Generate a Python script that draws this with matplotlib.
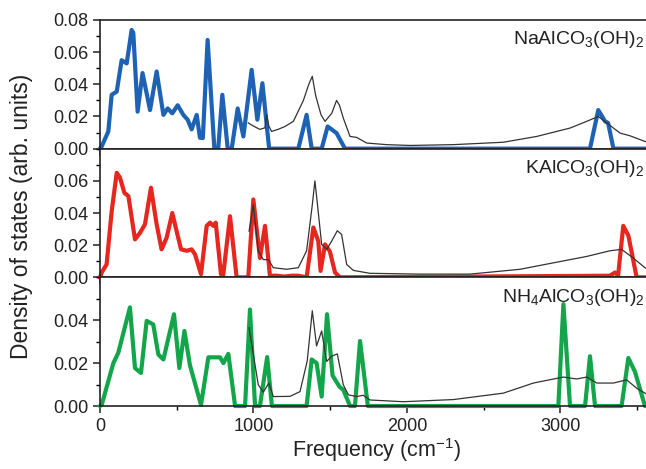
import matplotlib
matplotlib.use("Agg")
import matplotlib.pyplot as plt
from matplotlib.ticker import MultipleLocator, FixedLocator
import matplotlib.transforms as mtransforms

plt.rcParams['font.family'] = ['Liberation Sans', 'DejaVu Sans']
plt.rcParams['mathtext.fontset'] = 'custom'
plt.rcParams['mathtext.rm'] = 'Liberation Sans'
plt.rcParams['mathtext.it'] = 'Liberation Sans:italic'
plt.rcParams['mathtext.bf'] = 'Liberation Sans:bold'

# ---------------- data ----------------
labels = [r'NaAlCO$_3$(OH)$_2$', r'KAlCO$_3$(OH)$_2$', r'NH$_4$AlCO$_3$(OH)$_2$']

na_f = [0, 11, 54, 76, 109, 141, 174, 206, 217, 245, 277, 326, 369, 413, 441, 471, 506, 543, 571, 597, 630, 651, 670,
        701, 745, 770, 797, 832, 858, 897, 934, 988, 1025, 1058, 1102, 1292, 1346, 1379, 1444, 1483, 1541, 1596,
        3192, 3246, 3290, 3310, 3345, 3600]
na_v = [0, 0.0014, 0.0107, 0.0335, 0.0355, 0.055, 0.053, 0.0738, 0.072, 0.023, 0.047, 0.024, 0.048, 0.021, 0.025,
        0.022, 0.027, 0.021, 0.018, 0.012, 0.021, 0.0068, 0.0066, 0.0676, 0.0, 0.0, 0.0335, 0.0, 0.0, 0.025, 0.0076,
        0.049, 0.018, 0.0407, 0, 0, 0.021, 0, 0, 0.0138, 0.0097, 0, 0, 0.024, 0.017, 0.016, 0, 0]

na_exp_f = [966, 1000, 1042, 1075, 1086, 1100, 1118, 1160, 1205, 1260, 1325, 1360, 1383, 1405, 1440, 1466, 1510, 1541,
            1560, 1585, 1629, 1672, 1737, 1867, 2020, 2302, 2628, 2845, 3062, 3171, 3246, 3301, 3388, 3453, 3550, 3600]
na_exp_v = [0.016, 0.014, 0.012, 0.013, 0.021, 0.014, 0.0107, 0.012, 0.0138, 0.017, 0.030, 0.040, 0.045, 0.033, 0.021,
            0.017, 0.022, 0.030, 0.027, 0.019, 0.0076, 0.007, 0.0035, 0.0025, 0.002, 0.0025, 0.004, 0.0076, 0.0128,
            0.017, 0.020, 0.016, 0.0097, 0.008, 0.0045, 0.003]

k_f = [0, 11, 43, 76, 109, 130, 159, 185, 228, 261, 293, 332, 369, 401, 434, 471, 499, 528, 565, 597, 619, 658, 695,
       717, 738, 754, 788, 801, 847, 890, 966, 999, 1042, 1075, 1107, 1151, 1200, 1250, 1292, 1346, 1390, 1422, 1437,
       1466, 1498, 1531, 1564, 3322, 3355, 3375, 3409, 3442, 3496, 3600]
k_v = [0, 0.003, 0.008, 0.041, 0.065, 0.062, 0.0525, 0.0505, 0.0236, 0.0277, 0.033, 0.0557, 0.033, 0.0174, 0.0246,
       0.040, 0.0287, 0.0174, 0.0165, 0.0174, 0.0143, 0.002, 0.032, 0.034, 0.032, 0.034, 0.002, 0.0, 0.038, 0, 0,
       0.0484, 0.012, 0.032, 0.001, 0.001, 0.0005, 0.001, 0.001, 0, 0.031, 0.0225, 0.004, 0.0205, 0.016, 0.003, 0,
       0.001, 0.003, 0.001, 0.032, 0.026, 0, 0]

k_exp_f = [971, 999, 1031, 1064, 1097, 1129, 1216, 1292, 1346, 1383, 1400, 1417, 1444, 1477, 1509, 1546, 1574, 1607,
           1651, 1759, 2085, 2410, 2736, 2953, 3171, 3322, 3398, 3474, 3550, 3600]
k_exp_v = [0.0287, 0.045, 0.0165, 0.011, 0.011, 0.006, 0.005, 0.006, 0.0165, 0.045, 0.060, 0.045, 0.0205, 0.0174,
           0.0225, 0.029, 0.0267, 0.008, 0.0043, 0.0025, 0.002, 0.002, 0.005, 0.009, 0.013, 0.0165, 0.0174, 0.012,
           0.006, 0.004]

nh4_f = [0, 11, 87, 119, 195, 228, 267, 304, 347, 380, 413, 482, 517, 550, 586, 658, 706, 782, 804, 836, 880, 945,
         977, 1010, 1042, 1089, 1120, 1346, 1379, 1411, 1444, 1479, 1515, 1560, 1585, 1629, 1661, 1694, 1745, 2986,
         3019, 3062, 3160, 3192, 3225, 3398, 3442, 3485, 3550, 3600]
nh4_v = [0, 0.0005, 0.020, 0.0248, 0.046, 0.0177, 0.0154, 0.0397, 0.038, 0.024, 0.0217, 0.0428, 0.0177, 0.035, 0.019,
         0.0005, 0.0227, 0.0227, 0.020, 0.0243, 0, 0, 0.045, 0, 0, 0.0228, 0, 0, 0.0217, 0.020, 0.0044, 0.0428,
         0.0142, 0.009, 0.0075, 0, 0, 0.0303, 0, 0, 0.0475, 0, 0, 0.0232, 0, 0, 0.0224, 0.016, 0, 0]

nh4_exp_f = [971, 1031, 1064, 1100, 1129, 1238, 1303, 1350, 1383, 1411, 1444, 1477, 1509, 1546, 1585, 1618, 1672,
             1715, 1759, 1976, 2302, 2628, 2823, 3019, 3105, 3171, 3236, 3345, 3431, 3496, 3550, 3600]
nh4_exp_v = [0.0365, 0.0099, 0.0065, 0.0107, 0.0044, 0.0045, 0.0067, 0.021, 0.0444, 0.028, 0.035, 0.0208, 0.0232,
             0.0243, 0.0099, 0.0052, 0.0044, 0.005, 0.0028, 0.002, 0.003, 0.006, 0.0107, 0.0135, 0.0126, 0.0135,
             0.0107, 0.0107, 0.0122, 0.0083, 0.006, 0.004]

calc = [(na_f, na_v), (k_f, k_v), (nh4_f, nh4_v)]
exp = [(na_exp_f, na_exp_v), (k_exp_f, k_exp_v), (nh4_exp_f, nh4_exp_v)]
colors = ['#1d62b4', '#e6261f', '#12a54a']
ylims = [0.08, 0.08, 0.06]
yticks = [[0, 0.02, 0.04, 0.06, 0.08], [0, 0.02, 0.04, 0.06], [0, 0.02, 0.04]]
xticks = [0, 1000, 2000, 3000]

# ---------------- figure ----------------
W, H = 646, 469
fig = plt.figure(figsize=(W / 100, H / 100), dpi=100)
left = 100 / W
right = 652.6 / W
bottom = (H - 406) / H
top = (H - 20) / H
ph = (top - bottom) / 3

axes = []
for i in range(3):
    ax = fig.add_axes([left, top - (i + 1) * ph, right - left, ph])
    axes.append(ax)
    f, v = calc[i]
    ax.plot(f, v, color=colors[i], lw=3.0, solid_joinstyle='round', clip_on=False, zorder=2)
    ef, ev = exp[i]
    ax.plot(ef, ev, color='#333333', lw=0.9, zorder=3)
    ax.set_xlim(0, 3600)
    ax.set_ylim(0, ylims[i])
    ax.yaxis.set_major_locator(FixedLocator(yticks[i]))
    ax.yaxis.set_minor_locator(MultipleLocator(0.01))
    ax.xaxis.set_major_locator(FixedLocator(xticks))
    ax.xaxis.set_minor_locator(MultipleLocator(500))
    ax.yaxis.set_major_formatter(plt.FuncFormatter(lambda y, p: f'{y:.2f}'))
    ax.tick_params(axis='both', which='major', direction='out', length=5, width=1.1, labelsize=13, colors='#222222')
    ax.tick_params(axis='both', which='minor', direction='out', length=3, width=1.0)
    for s in ax.spines.values():
        s.set_linewidth(1.2)
        s.set_color('#222222')
    ax.spines['right'].set_visible(False)
    if i < 2:
        ax.tick_params(axis='x', labelbottom=False)
    trans = mtransforms.blended_transform_factory(ax.transData, ax.transAxes)
    ax.text(3545, 0.81, labels[i], transform=trans, ha='right', va='baseline', fontsize=14, color='#222222')

axes[2].set_xlabel(r'Frequency (cm$^{-1}$)', fontsize=15.5, color='#222222', labelpad=1)
fig.text(22 / W, 1 - 216 / H, 'Density of states (arb. units)', rotation=90, ha='center', va='center',
         fontsize=16.5, color='#222222')

fig.savefig('out.png', dpi=100)
